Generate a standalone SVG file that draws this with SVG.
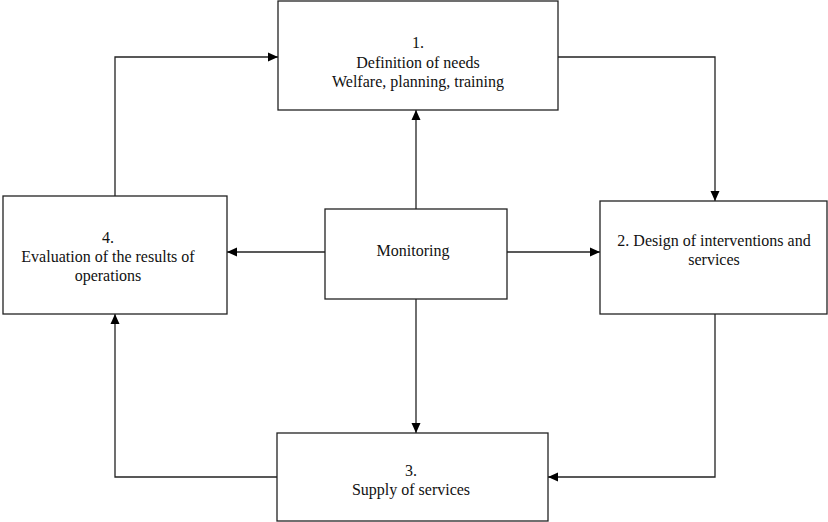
<svg xmlns="http://www.w3.org/2000/svg" width="828" height="522" viewBox="0 0 828 522">
<style>
.box{fill:#fff;stroke:#222;stroke-width:1.3}
.t{font-family:'Liberation Serif','Times New Roman','DejaVu Serif',serif;font-size:16px;fill:#111;text-anchor:middle}
.c{fill:none;stroke:#222;stroke-width:1.3}
</style>
<defs>
<marker id="ah" markerWidth="10" markerHeight="10" viewBox="0 0 10 10" refX="10" refY="5" orient="auto" markerUnits="userSpaceOnUse">
<path d="M0,0.5 L10,5 L0,9.5 Z" fill="#000"/>
</marker>
</defs>
<rect width="828" height="522" fill="#fff"/>
<g id="connectors">
<polyline class="c" points="115,196 115,57 278,57" marker-end="url(#ah)"/>
<polyline class="c" points="558,57 715,57 715,201" marker-end="url(#ah)"/>
<polyline class="c" points="715,314 715,477 548,477" marker-end="url(#ah)"/>
<polyline class="c" points="277,477 115,477 115,314" marker-end="url(#ah)"/>
<line class="c" x1="416" y1="209" x2="416" y2="110" marker-end="url(#ah)"/>
<line class="c" x1="325" y1="252" x2="227" y2="252" marker-end="url(#ah)"/>
<line class="c" x1="507" y1="252" x2="600" y2="252" marker-end="url(#ah)"/>
<line class="c" x1="416" y1="299" x2="416" y2="433" marker-end="url(#ah)"/>
</g>
<g id="n1">
<rect class="box" x="278" y="1" width="280" height="109"/>
<text class="t" x="418" y="48">1.</text>
<text class="t" x="418" y="68">Definition of needs</text>
<text class="t" x="418" y="87">Welfare, planning, training</text>
</g>
<g id="n2">
<rect class="box" x="600" y="201" width="227" height="113"/>
<text class="t" x="714" y="246">2. Design of interventions and</text>
<text class="t" x="714" y="265">services</text>
</g>
<g id="n3">
<rect class="box" x="277" y="433" width="271" height="88"/>
<text class="t" x="411" y="476">3.</text>
<text class="t" x="411" y="495">Supply of services</text>
</g>
<g id="n4">
<rect class="box" x="3" y="196" width="224" height="118"/>
<text class="t" x="108" y="243">4.</text>
<text class="t" x="108" y="262">Evaluation of the results of</text>
<text class="t" x="108" y="281">operations</text>
</g>
<g id="monitoring">
<rect class="box" x="325" y="209" width="182" height="90"/>
<text class="t" x="413" y="256">Monitoring</text>
</g>
</svg>
